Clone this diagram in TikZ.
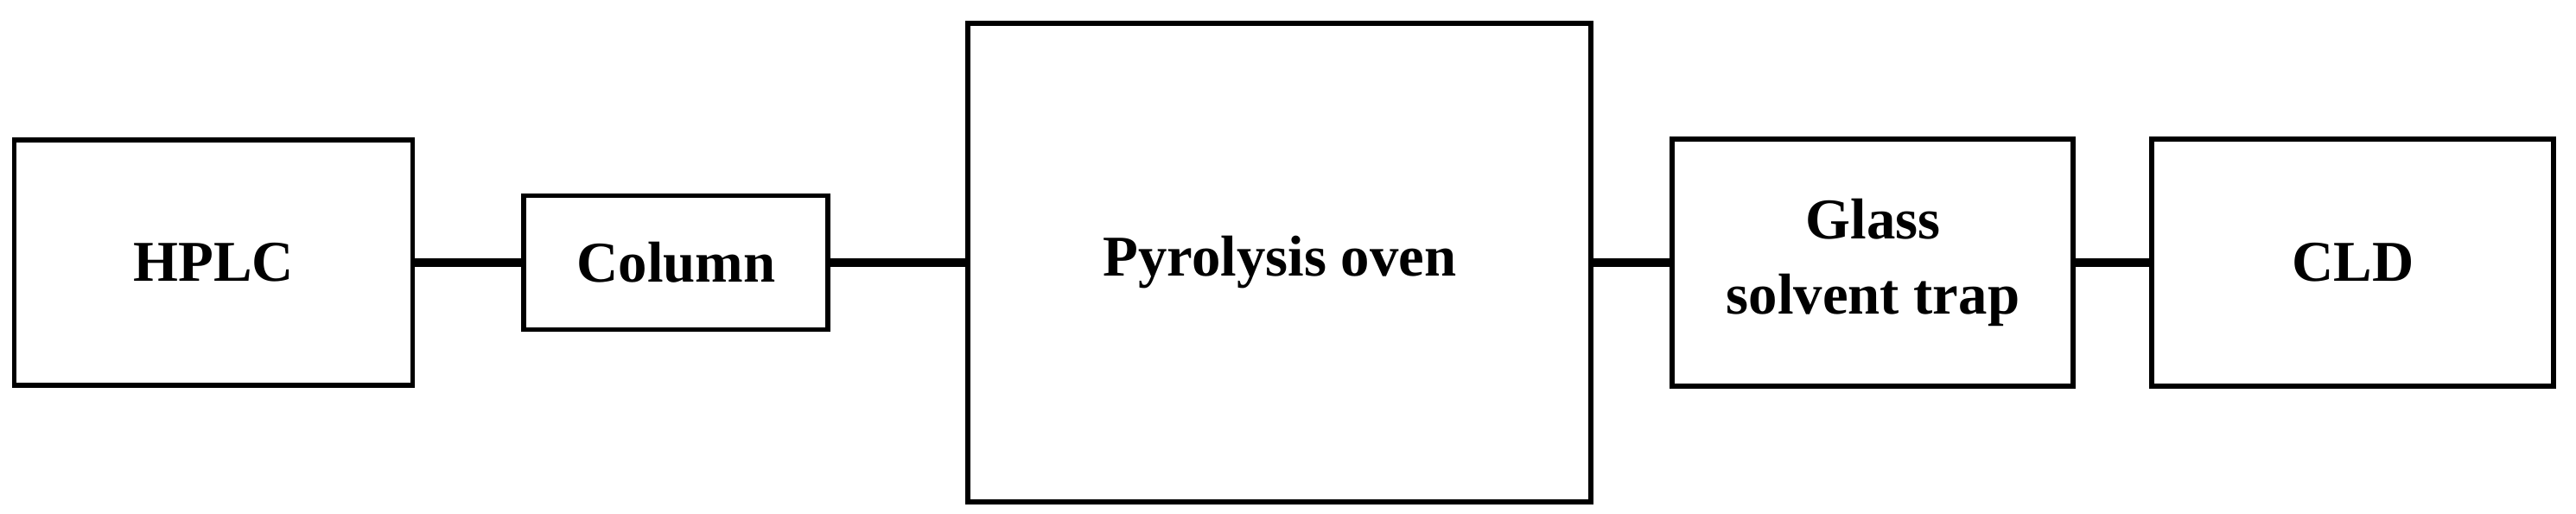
\documentclass[tikz,border=0pt]{standalone}
\usepackage{fontspec}
\setmainfont{Liberation Serif}
\usetikzlibrary{positioning}

\begin{document}
\begin{tikzpicture}[-, auto, node distance=1.2cm, align=center,
	unit/.style={rectangle, draw, line width=1.7pt, inner sep=0pt,
				font=\fontsize{19}{25}\selectfont\bfseries},
	pipe/.style={line width=2.6pt},
]
\useasboundingbox (0,0) rectangle (29.81,5.94);
\node [unit, minimum width=4.61cm, minimum height=2.84cm] (HPLC) at (2.47,2.90) {HPLC};
\node [unit, minimum width=3.52cm, minimum height=1.55cm] (COL)  [right=1.23cm of HPLC] {Column};
\node [unit, minimum width=7.21cm, minimum height=5.54cm] (OVEN) [right=1.56cm of COL] {Pyrolysis oven};
\node [unit, minimum width=4.64cm, minimum height=2.86cm] (TRAP) [right=0.88cm of OVEN] {Glass\\ solvent trap};
\node [unit, minimum width=4.65cm, minimum height=2.86cm] (CLD)  [right=0.85cm of TRAP] {CLD};
%
\draw [pipe] (HPLC) -- (COL);
\draw [pipe] (COL) -- (OVEN);
\draw [pipe] (OVEN) -- (TRAP);
\draw [pipe] (TRAP) -- (CLD);
\end{tikzpicture}
\end{document}
